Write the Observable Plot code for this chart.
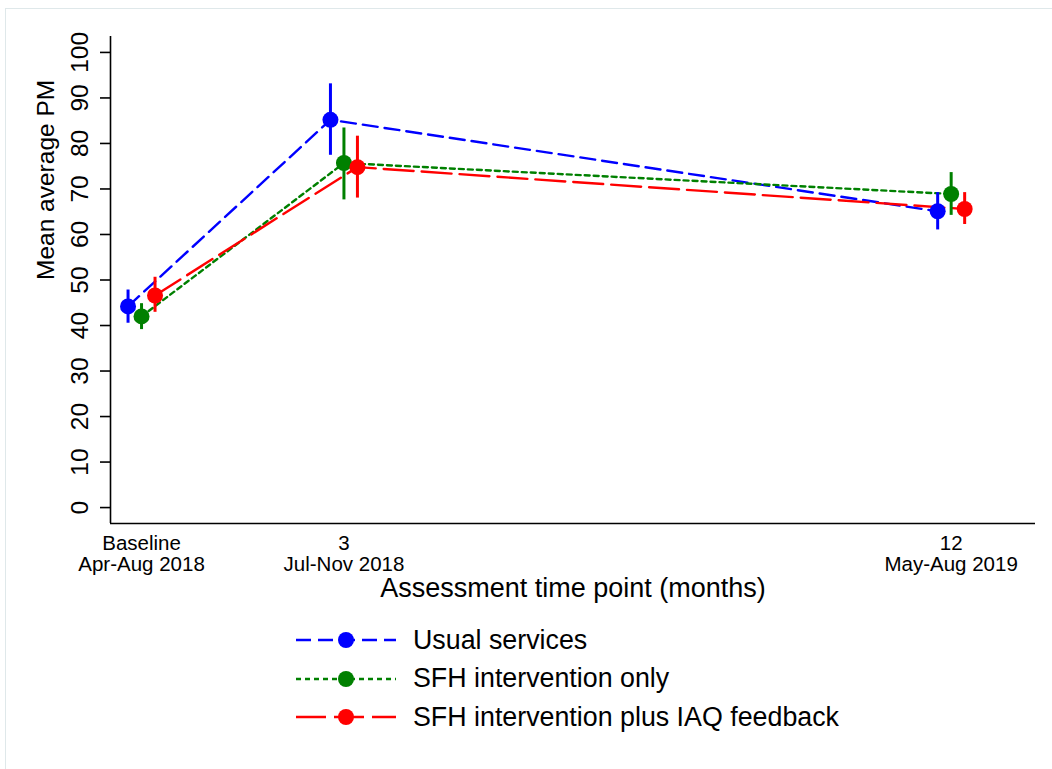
<!DOCTYPE html>
<html>
<head>
<meta charset="utf-8">
<script src="https://cdn.jsdelivr.net/npm/d3@7"></script>
<script src="https://cdn.jsdelivr.net/npm/@observablehq/plot@0.6"></script>
<style>
  html, body { margin: 0; padding: 0; background: #fff; }
  body { font-family: "Liberation Sans", Arial, Helvetica, sans-serif; }
  #wrap { position: relative; width: 1052px; height: 769px; overflow: hidden; }
  #border { position: absolute; left: 5px; top: 8px; width: 1200px; height: 900px;
            border-top: 1px solid #dfe8ea; border-left: 1px solid #dfe8ea; }
  #chart { position: absolute; left: 0; top: 0; }
  #legend { position: absolute; left: 296px; top: 621px; }
  .row { display: flex; align-items: center; height: 38.5px; }
  .row svg { display: block; }
  .row span { margin-left: 17px; font-size: 26.8px; color: #000; white-space: nowrap; }
</style>
</head>
<body>
<div id="wrap">
  <div id="border"></div>
  <div id="chart"></div>
  <div id="legend"></div>
</div>
<script>
// ---- data ----
const months = [0, 3, 12];
const xTickLine1 = ["Baseline", "3", "12"];
const xTickLine2 = ["Apr-Aug 2018", "Jul-Nov 2018", "May-Aug 2019"];
const yTicks = [0, 10, 20, 30, 40, 50, 60, 70, 80, 90, 100];
const seriesNames = ["Usual services", "SFH intervention only", "SFH intervention plus IAQ feedback"];
const seriesColors = ["#0000ff", "#008000", "#ff0000"];
const usualMean = [44.2, 85.2, 65.1];
const usualLo   = [40.5, 77.4, 61.0];
const usualHi   = [47.8, 93.1, 69.2];
const sfhMean   = [42.0, 75.7, 68.9];
const sfhLo     = [39.1, 67.6, 64.2];
const sfhHi     = [44.8, 83.4, 73.6];
const iaqMean   = [46.6, 74.8, 65.6];
const iaqLo     = [42.9, 68.0, 62.2];
const iaqHi     = [50.6, 81.6, 69.2];
const yTitle = "Mean average PM";
const xTitle = "Assessment time point (months)";

// ---- build ----
const dodge = [-0.2, 0, 0.2];
const dashes = ["15,7", "5,4", "30,8"];
const means = [usualMean, sfhMean, iaqMean];
const los = [usualLo, sfhLo, iaqLo];
const his = [usualHi, sfhHi, iaqHi];
const series = seriesNames.map((name, s) =>
  months.map((m, i) => ({ name, s, x: m + dodge[s], mean: means[s][i], lo: los[s][i], hi: his[s][i] }))
);
const xDomain = [-0.46, 13.25];
const yDomain = [-3.5, 103.5];
const font = `"Liberation Sans", Arial, Helvetica, sans-serif`;

const marks = [
  Plot.ruleX([xDomain[0]], { stroke: "#000", strokeWidth: 1.6 }),
  Plot.ruleY([yDomain[0]], { stroke: "#000", strokeWidth: 1.6 }),
  Plot.axisY({ ticks: yTicks, tickSize: 10, tickFormat: () => "", label: null, strokeWidth: 1.6, stroke: "#000" }),
  Plot.text(yTicks, { y: d => d, frameAnchor: "left", text: d => String(d), rotate: -90,
    dx: -30, textAnchor: "middle", lineAnchor: "middle", fontSize: 24.5, fill: "#000" }),
  Plot.text(months, { x: d => d, frameAnchor: "bottom", text: (d, i) => xTickLine1[i],
    lineAnchor: "bottom", textAnchor: "middle", dy: 26, fontSize: 20.5, fill: "#000" }),
  Plot.text(months, { x: d => d, frameAnchor: "bottom", text: (d, i) => xTickLine2[i],
    lineAnchor: "bottom", textAnchor: "middle", dy: 47, fontSize: 20.5, fill: "#000" }),
  Plot.text([xTitle], { frameAnchor: "bottom", dy: 65, lineAnchor: "middle", fontSize: 27, fill: "#000" }),
  Plot.text([yTitle], { frameAnchor: "left", rotate: -90, dx: -64, lineAnchor: "middle", fontSize: 24.5, fill: "#000" })
];
series.forEach((rows, s) => {
  marks.push(Plot.line(rows, { x: "x", y: "mean", stroke: seriesColors[s], strokeWidth: 2.4, strokeDasharray: dashes[s] }));
});
series.forEach((rows, s) => {
  marks.push(Plot.ruleX(rows, { x: "x", y1: "lo", y2: "hi", stroke: seriesColors[s], strokeWidth: 3 }));
  marks.push(Plot.dot(rows, { x: "x", y: "mean", r: 8, fill: seriesColors[s], stroke: "none" }));
});

const chart = Plot.plot({
  width: 1052, height: 610,
  marginLeft: 110, marginRight: 17, marginTop: 36, marginBottom: 87,
  x: { domain: xDomain, axis: null },
  y: { domain: yDomain, axis: null },
  style: { fontFamily: font, background: "transparent", overflow: "visible" },
  marks
});
document.getElementById("chart").appendChild(chart);

// ---- legend ----
const legend = document.getElementById("legend");
seriesNames.forEach((name, s) => {
  const row = document.createElement("div");
  row.className = "row";
  const svg = d3.create("svg").attr("width", 100).attr("height", 30);
  svg.append("line").attr("x1", 0).attr("x2", 100).attr("y1", 15).attr("y2", 15)
    .attr("stroke", seriesColors[s]).attr("stroke-width", 2.4).attr("stroke-dasharray", dashes[s]);
  svg.append("circle").attr("cx", 50).attr("cy", 15).attr("r", 8).attr("fill", seriesColors[s]);
  row.appendChild(svg.node());
  const t = document.createElement("span");
  t.textContent = name;
  row.appendChild(t);
  legend.appendChild(row);
});
</script>
</body>
</html>
